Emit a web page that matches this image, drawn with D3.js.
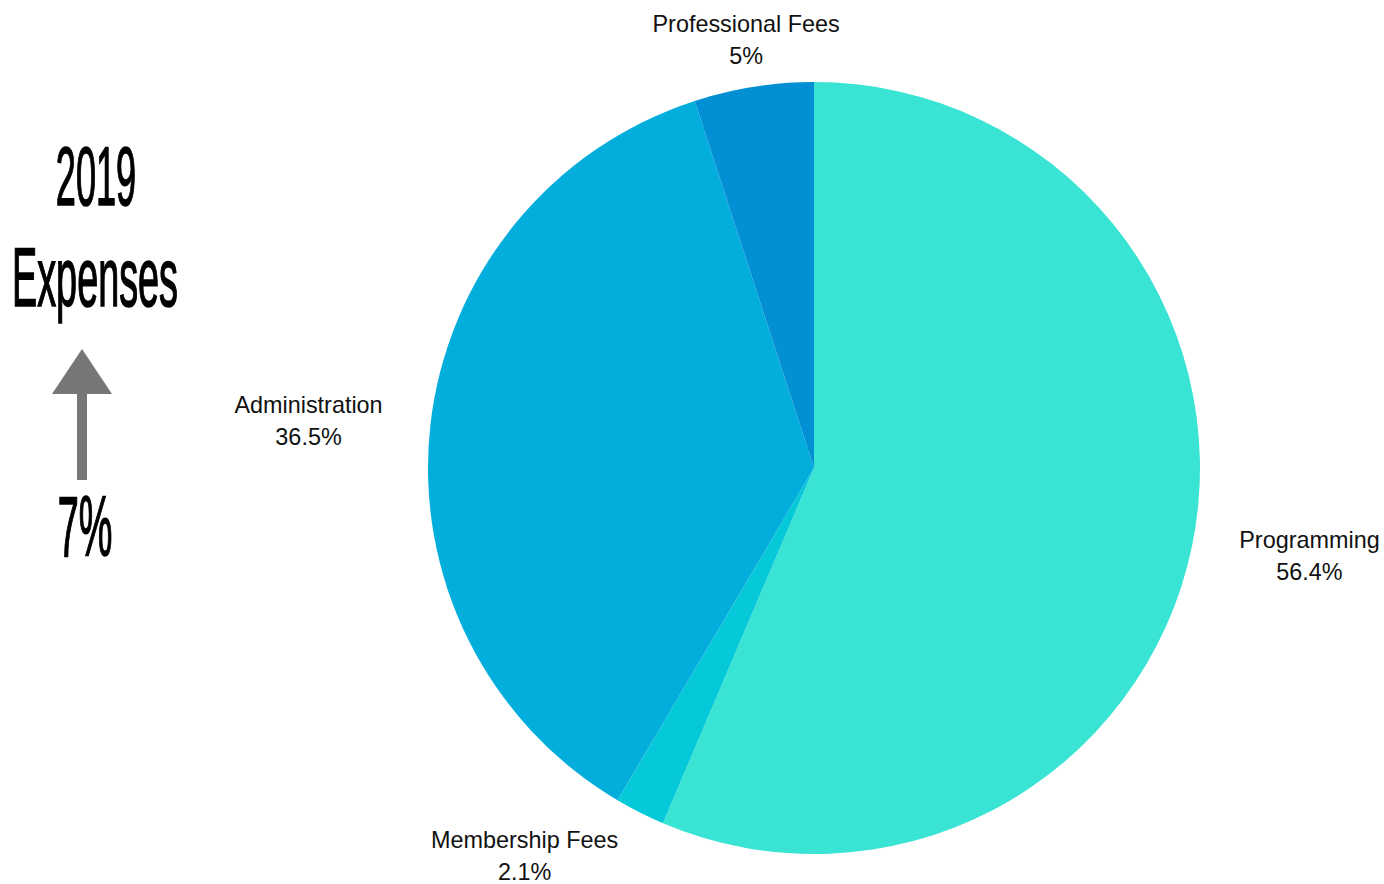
<!DOCTYPE html>
<html>
<head>
<meta charset="utf-8">
<script src="https://cdn.jsdelivr.net/npm/d3@7"></script>
<style>
  body { margin: 0; background: #fff; }
  svg { display: block; }
</style>
</head>
<body>
<div id="chart"></div>
<script>
// 2019 expenses breakdown
var categories = ["Programming", "Membership Fees", "Administration", "Professional Fees"];
var values = [56.4, 2.1, 36.5, 5];
var colors = ["#3ae4d4", "#05c9d9", "#04aedc", "#028fd4"];
var title = ["2019", "Expenses"];
var change = "7%";

var width = 1384, height = 884;
var cx = 814, cy = 468, radius = 386, labelRadius = 434;

var svg = d3.select("#chart")
  .append("svg")
  .attr("width", width)
  .attr("height", height);

var pie = d3.pie().sort(null).value(d => d.value);
var arc = d3.arc().innerRadius(0).outerRadius(radius);

var data = categories.map((c, i) => ({name: c, value: values[i], color: colors[i]}));
var arcs = pie(data);

var g = svg.append("g").attr("transform", `translate(${cx},${cy})`);

g.selectAll("path")
  .data(arcs)
  .join("path")
  .attr("d", arc)
  .style("fill", d => d.data.color);

// labels outside the pie, two centred lines
var labels = g.selectAll("text.label")
  .data(arcs)
  .join("text")
  .attr("class", "label")
  .attr("text-anchor", "middle")
  .style("font-family", "'Liberation Sans', Arial, sans-serif")
  .style("font-size", "23.4px")
  .style("fill", "#111");

labels.append("tspan").attr("x", 0).attr("y", -7).text(d => d.data.name);
labels.append("tspan").attr("x", 0).attr("y", 25).text(d => d.data.value + "%");

labels.attr("transform", function(d) {
  var a = (d.startAngle + d.endAngle) / 2;
  var s = Math.sin(a);
  var w = d3.max(d3.select(this).selectAll("tspan").nodes(), n => n.getComputedTextLength());
  var x = labelRadius * s, y = -labelRadius * Math.cos(a);
  if (Math.abs(s) >= 0.2) x += (s > 0 ? 1 : -1) * w / 2;
  return `translate(${x},${y})`;
});

// left side title
var side = svg.append("g");
var condensed = (sel, x, y, size, sx, txt) => {
  sel.append("text")
    .attr("transform", `translate(${x},${y}) scale(${sx},1)`)
    .attr("text-anchor", "middle")
    .style("font-family", "'Liberation Sans', Arial, sans-serif")
    .style("font-size", size + "px")
    .style("fill", "#000")
    .style("stroke", "#000")
    .style("stroke-width", 1.6)
    .text(txt);
};
condensed(side, 96, 205, 84, 0.43, title[0]);
condensed(side, 95, 306, 84, 0.45, title[1]);
condensed(side, 85, 556, 86, 0.44, change);

// up arrow
side.append("rect")
  .attr("x", 77).attr("y", 392)
  .attr("width", 10).attr("height", 88)
  .style("fill", "#777");
side.append("path")
  .attr("d", d3.line()([[52, 394], [82, 349], [112, 394]]) + "Z")
  .style("fill", "#777");
</script>
</body>
</html>
